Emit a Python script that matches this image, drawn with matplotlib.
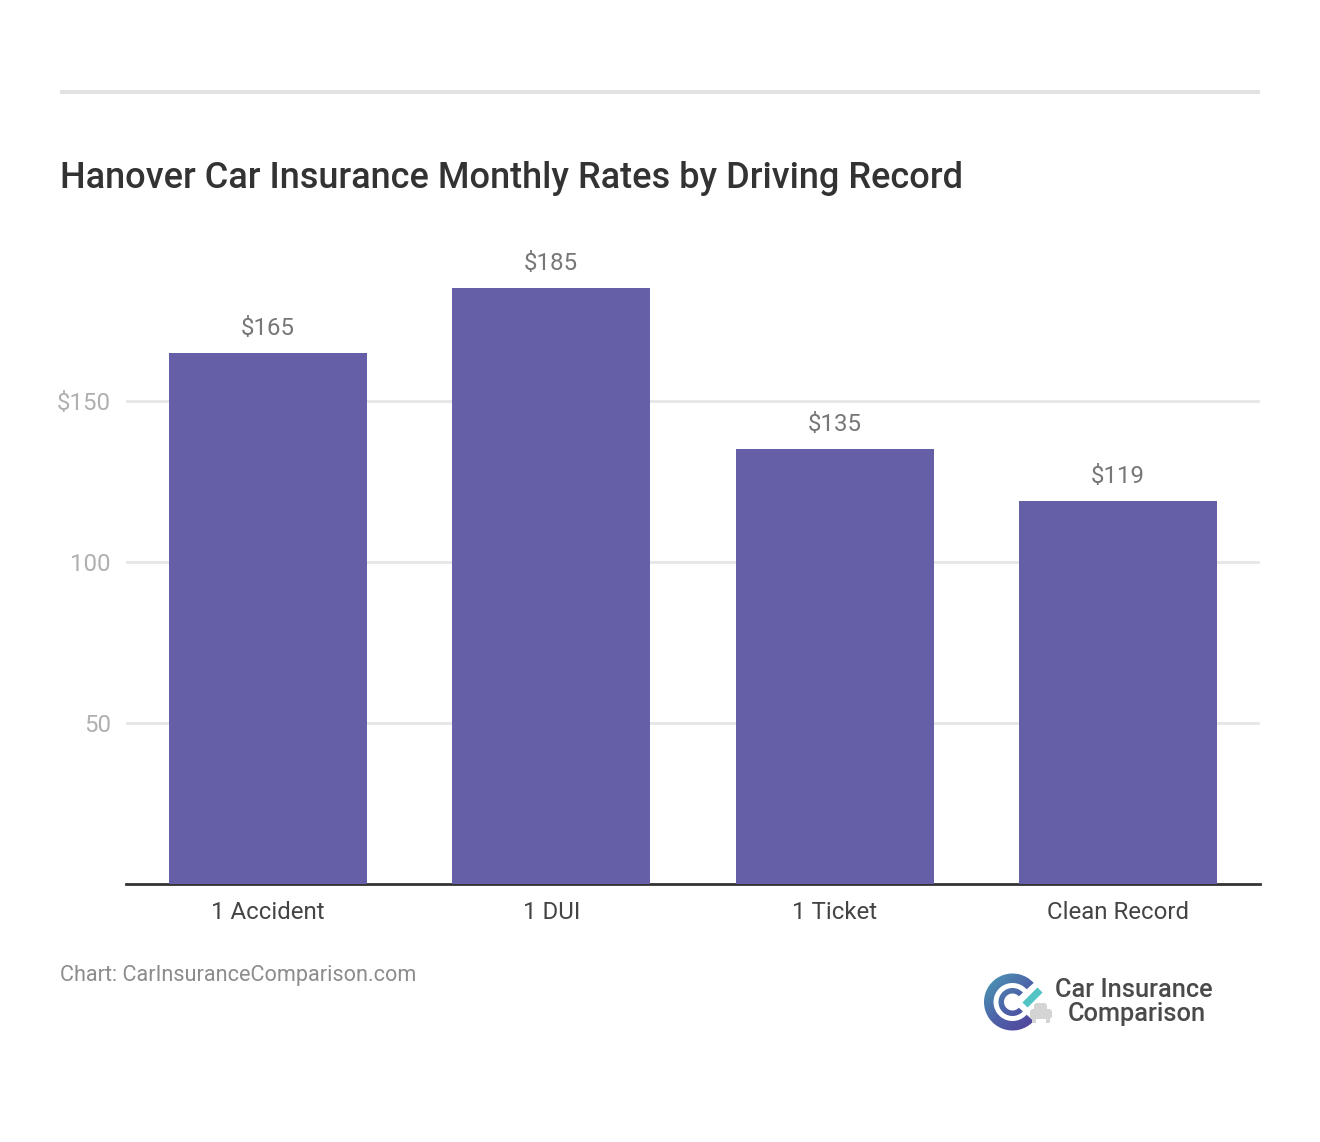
#!/usr/bin/env python3
"""Hanover monthly rates by driving record, bar chart with source line and logo."""

import matplotlib
matplotlib.use("Agg")
import matplotlib.pyplot as plt
import numpy as np
from matplotlib.colors import LinearSegmentedColormap
from matplotlib.patches import FancyBboxPatch, Rectangle, Wedge

W, H = 1320, 1142

categories = ["1 Accident", "1 DUI", "1 Ticket", "Clean Record"]
rates = [165, 185, 135, 119]
y_ticks = [50, 100, 150]
y_tick_labels = ["50", "100", "$150"]

BAR = "#645fa6"
GRID = "#e6e6e6"
plt.rcParams["font.family"] = ["Roboto", "DejaVu Sans"]


def px_axes(fig, x0, y0, x1, y1):
    """Axes placed with reference pixel edges (y measured from the top)."""
    return fig.add_axes([x0 / W, 1 - y1 / H, (x1 - x0) / W, (y1 - y0) / H])


def draw_logo(ax):
    grad = LinearSegmentedColormap.from_list("logo", ["#4a9fb5", "#4d62a8", "#553c9a"])
    xx, yy = np.meshgrid(np.linspace(0, 1, 64), np.linspace(0, 1, 64))
    cx, cy = 1012.5, 1002
    rings = [Wedge((cx, cy), 28.5, 42, 318, width=9.5, transform=ax.transData),
             Wedge((cx, cy), 14, 42, 318, width=5.5, transform=ax.transData)]
    for ring in rings:
        im = ax.imshow(0.65 * xx + 0.65 * yy, extent=(983, 1042, 1031, 973), cmap=grad,
                       vmin=0, vmax=1.3, aspect="auto", origin="upper", zorder=2)
        im.set_clip_path(ring)
    # check stroke
    ax.plot([1025, 1040], [1005, 990], color="#52c4c4", lw=5.2,
            solid_capstyle="butt", zorder=3)
    # car
    ax.add_patch(FancyBboxPatch((1030, 1009), 22, 10, boxstyle="round,pad=0,rounding_size=3",
                                fc="#d4d4d4", ec="none", zorder=2))
    ax.add_patch(FancyBboxPatch((1034, 1003), 13, 9, boxstyle="round,pad=0,rounding_size=3",
                                fc="#d4d4d4", ec="none", zorder=2))
    ax.add_patch(Rectangle((1032, 1018), 4, 5, fc="#d4d4d4", ec="none", zorder=2))
    ax.add_patch(Rectangle((1046, 1018), 4, 5, fc="#d4d4d4", ec="none", zorder=2))
    ax.text(1134, 990, "Car Insurance", fontsize=18.3, fontweight="medium", color="#4a4a4a",
            ha="center", va="center", zorder=4)
    ax.text(1137, 1014, "Comparison", fontsize=18.3, fontweight="medium", color="#4a4a4a",
            ha="center", va="center", zorder=4)


fig = plt.figure(figsize=(W / 100, H / 100), dpi=100, facecolor="white")

# full-figure overlay in pixel coordinates for the page furniture
page = px_axes(fig, 0, 0, W, H)
page.set_xlim(0, W)
page.set_ylim(H, 0)
page.axis("off")
page.add_patch(Rectangle((60, 90), 1200, 4, fc="#e2e2e2", ec="none"))
page.text(60, 178, "Hanover Car Insurance Monthly Rates by Driving Record",
          fontsize=26, fontweight="medium", color="#333333", ha="left", va="center")
page.text(60, 975, "Chart: CarInsuranceComparison.com", fontsize=15.6, color="#8c8c8c",
          ha="left", va="center")
draw_logo(page)
page.set_xlim(0, W)
page.set_ylim(H, 0)

ax = px_axes(fig, 126, 240, 1260, 884)
ax.patch.set_alpha(0)
x = np.arange(len(categories))
ax.bar(x, rates, width=0.7, color=BAR, zorder=3)
ax.set_xlim(-0.5, len(categories) - 0.5)
ax.set_ylim(0, 200)
ax.set_yticks(y_ticks, y_tick_labels)
ax.set_xticks(x, categories)
ax.grid(axis="y", color=GRID, lw=2, zorder=1)
ax.set_axisbelow(True)
for name in ("top", "right", "left"):
    ax.spines[name].set_visible(False)
ax.spines["bottom"].set_color("#333333")
ax.spines["bottom"].set_linewidth(2)
ax.tick_params(axis="x", length=0, pad=12, labelsize=17.3, labelcolor="#444444")
ax.tick_params(axis="y", length=0, pad=11, labelsize=17.3, labelcolor="#b0b0b0")

for xi, v in zip(x, rates):
    ax.annotate(f"${v}", (xi, v), xytext=(0, 13), textcoords="offset points" if False else "offset pixels",
                ha="center", va="bottom", fontsize=17.3, color="#777777")

fig.savefig("out.png", dpi=100, facecolor="white")
